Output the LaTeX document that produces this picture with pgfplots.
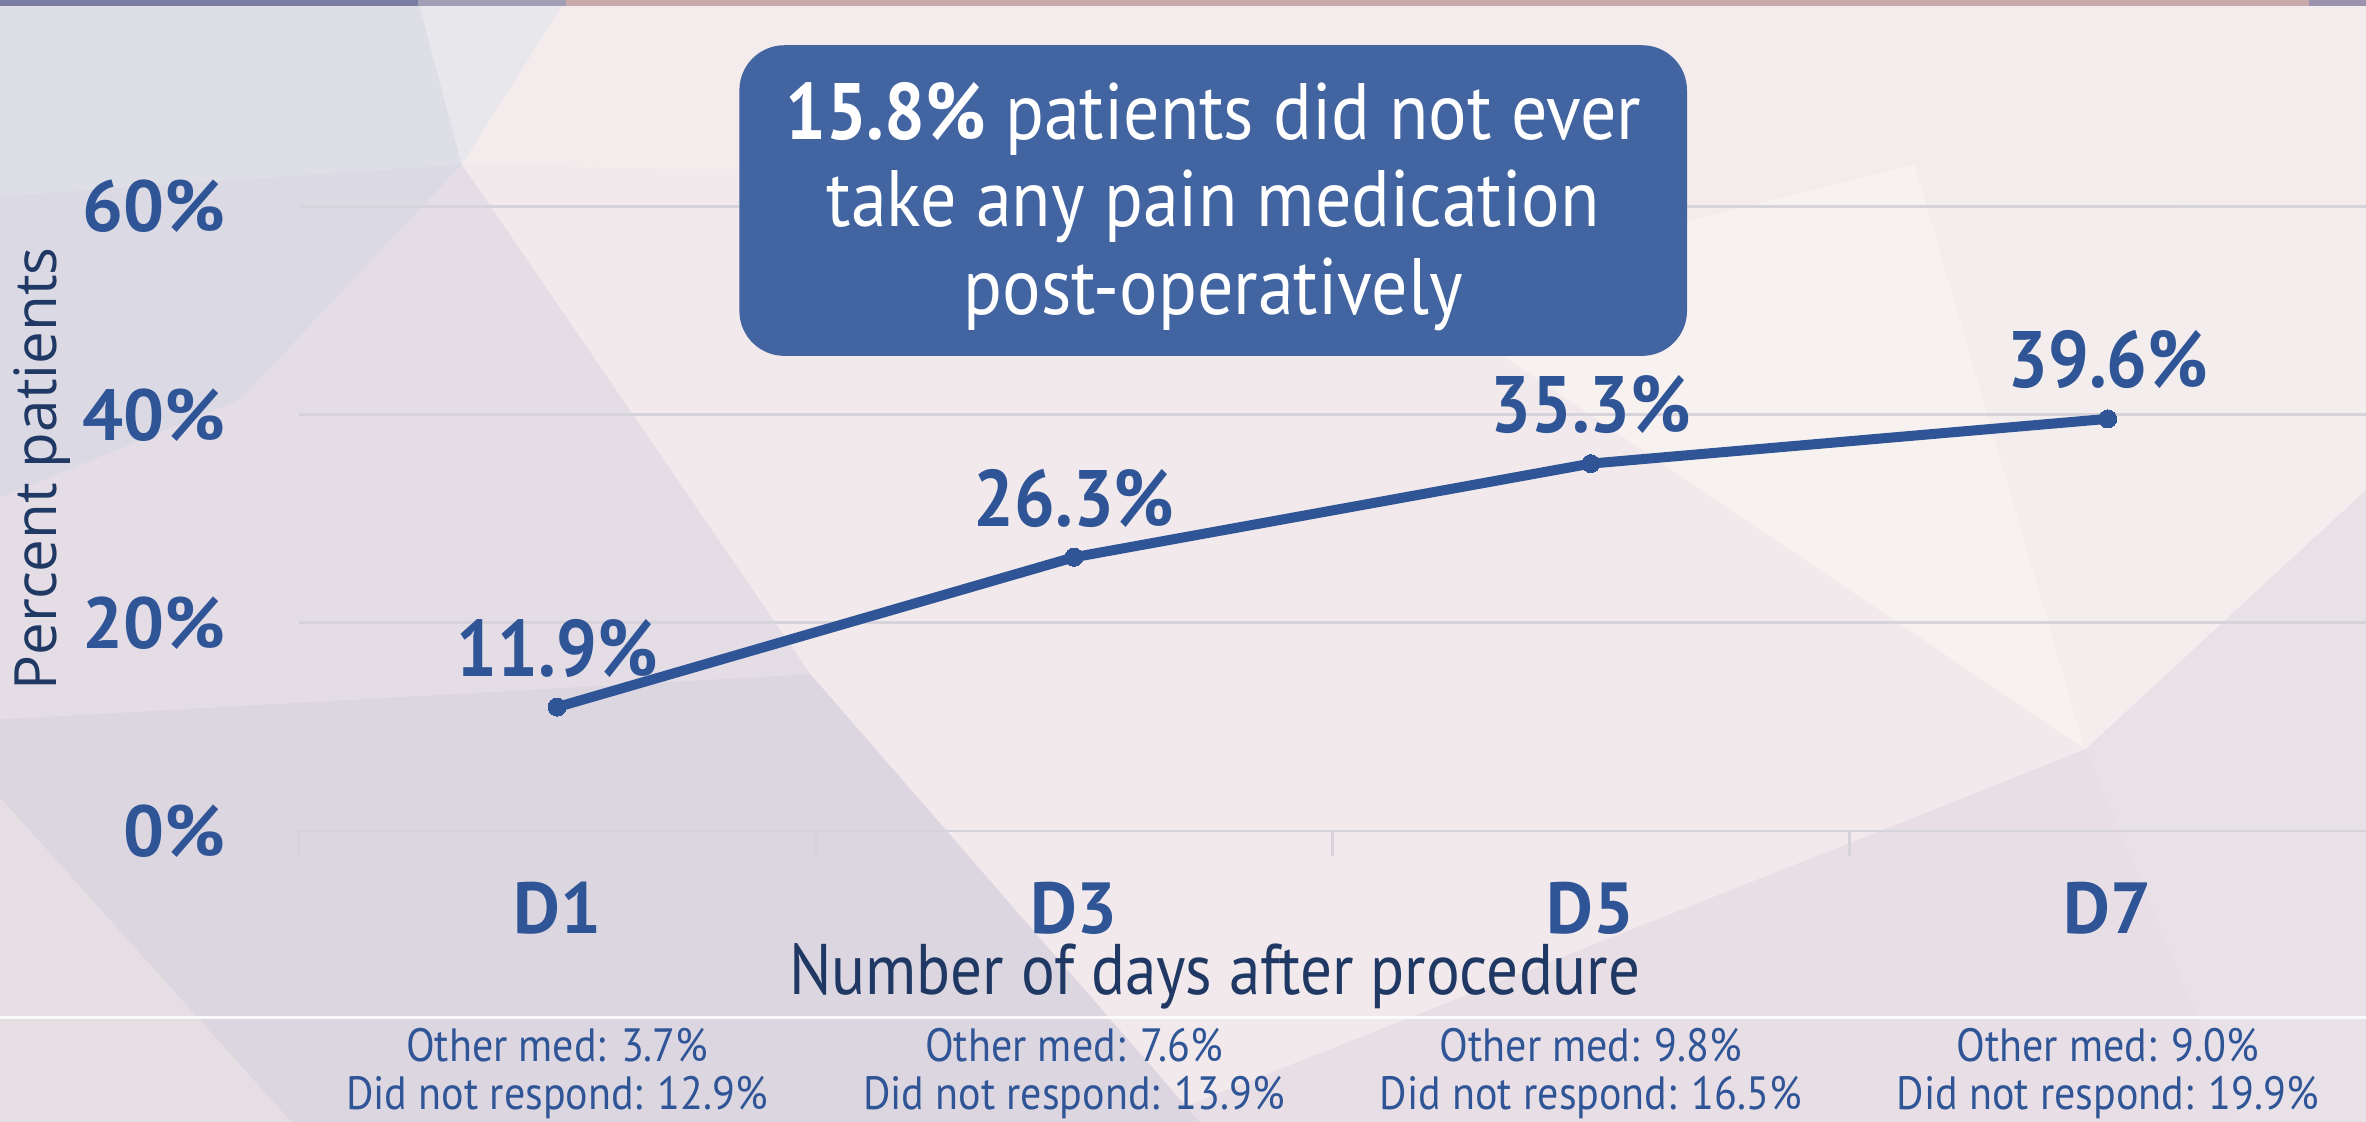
\documentclass[border=0pt]{standalone}
\usepackage{fontspec}
\setmainfont{PT Sans}
\newfontfamily\narrowA[FakeStretch=0.9]{PT Sans}
\newfontfamily\narrowB[FakeStretch=0.88]{PT Sans}
\newfontfamily\ylabfont{Open Sans}
\usepackage{pgfplots}
\pgfplotsset{compat=1.18}
\definecolor{myblue}{RGB}{47,85,151}
\definecolor{boxblue}{RGB}{66,100,160}
\definecolor{navy}{RGB}{31,56,100}
\definecolor{gridc}{RGB}{214,212,218}
\begin{document}
\begin{tikzpicture}
\useasboundingbox (0,0) rectangle (709.8pt,336.6pt);
% ---------- background (coordinates in 1568x744 units, y downwards)
\begin{scope}[x=0.45268pt,y=-0.45242pt,shift={(0pt,336.6pt)}]
\fill[fill={rgb,255:red,237;green,229;blue,234}] (0,0) rectangle (1568,744);
\fill[fill={rgb,255:red,222;green,222;blue,231}] (0,0) -- (277,0) -- (306,109) -- (0,130) -- cycle;
\fill[fill={rgb,255:red,232;green,231;blue,236}] (277,0) -- (375,0) -- (306,109) -- cycle;
\fill[fill={rgb,255:red,244;green,236;blue,236}] (375,0) -- (1568,0) -- (1568,150) -- (1269,109) -- (932,193) -- (530,114) -- (306,109) -- cycle;
\fill[fill={rgb,255:red,247;green,242;blue,239}] (932,193) -- (1269,109) -- (1382,497) -- cycle;
\fill[fill={rgb,255:red,243;green,237;blue,237}] (1269,109) -- (1568,150) -- (1568,325) -- (1382,497) -- cycle;
\fill[fill={rgb,255:red,233;green,225;blue,232}] (1568,325) -- (1568,744) -- (1485,744) -- (1382,497) -- cycle;
\fill[fill={rgb,255:red,241;green,233;blue,235}] (306,109) -- (530,114) -- (932,193) -- (1382,497) -- (760,744) -- (795,744) -- (537,447) -- cycle;
\fill[fill={rgb,255:red,232;green,223;blue,230}] (760,744) -- (1382,497) -- (1485,744) -- cycle;
\fill[fill={rgb,255:red,228;green,221;blue,230}] (306,109) -- (537,447) -- (0,477) -- (0,330) -- (159,265) -- cycle;
\fill[fill={rgb,255:red,218;green,217;blue,228}] (0,130) -- (306,109) -- (159,265) -- (0,330) -- cycle;
\fill[fill={rgb,255:red,220;green,214;blue,225}] (0,477) -- (537,447) -- (795,744) -- (193,744) -- (0,529) -- cycle;
\fill[fill={rgb,255:red,229;green,223;blue,227}] (0,529) -- (193,744) -- (0,744) -- cycle;
% top strip
\fill[fill={rgb,255:red,122;green,125;blue,162}] (0,0) rectangle (277,4);
\fill[fill={rgb,255:red,160;green,159;blue,180}] (277,0) rectangle (375,4);
\fill[fill={rgb,255:red,200;green,170;blue,173}] (375,0) rectangle (1530,4);
\fill[fill={rgb,255:red,156;green,147;blue,173}] (1530,0) rectangle (1568,4);
% white separator line
\draw[white, line width=0.9pt, opacity=0.85] (0,675) -- (1568,675);
\end{scope}
% ---------- chart
\begin{axis}[
  at={(89.63pt,87.32pt)}, anchor=south west,
  scale only axis, width=620.2pt, height=187.3pt,
  xmin=-0.5, xmax=3.5, ymin=0, ymax=60,
  clip=false,
  axis line style={draw=none},
  tick pos=left,
  ytick={0,20,40,60}, yticklabels={0\%,20\%,40\%,60\%},
  xtick={0,1,2,3}, xticklabels={D1,D3,D5,D7},
  major tick length=0pt,
  ymajorgrids, grid style={gridc, line width=0.8pt},
  extra x ticks={-0.5,0.5,1.5,2.5},
  extra x tick labels={},
  extra x tick style={major tick length=7.5pt, tick align=outside, xmajorgrids=false},
  tick style={gridc, line width=0.8pt},
  ticklabel style={font=\fontsize{21.7}{23}\selectfont\bfseries, text=myblue},
  yticklabel style={anchor=east, inner sep=0pt, xshift=-21.9pt},
  xticklabel style={anchor=center, inner sep=0pt, yshift=-23.3pt},
  xlabel={Number of days after procedure},
  xlabel style={at={(axis description cs:0.4431,-0.2615)}, anchor=base, inner sep=0pt, font=\narrowB\fontsize{21.5}{23}\selectfont, text=navy},
  ylabel={Percent patients},
  ylabel style={at={(axis description cs:-0.1241,0.5797)}, anchor=center, inner sep=0pt, font=\ylabfont\fontsize{17.5}{19}\selectfont, text=navy},
  every node near coord/.append style={anchor=center, yshift=17.7pt, inner sep=0pt, font=\narrowA\fontsize{24}{26}\selectfont\bfseries, text=myblue},
]
\addplot[myblue, line width=3pt, mark=*, mark size=2.7pt,
  mark options={fill=myblue, draw=myblue, line width=0pt},
  nodes near coords, point meta=explicit symbolic]
  coordinates {(0,11.9) [11.9\%] (1,26.3) [26.3\%] (2,35.3) [35.3\%] (3,39.6) [39.6\%]};
\begin{scope}[every node/.style={anchor=base, inner sep=0pt, text=myblue, font=\narrowA\fontsize{14}{16}\selectfont}]
\node at (axis cs:0,-22.2) {Other med: 3.7\%};
\node at (axis cs:0,-26.8) {Did not respond: 12.9\%};
\node at (axis cs:1,-22.2) {Other med: 7.6\%};
\node at (axis cs:1,-26.8) {Did not respond: 13.9\%};
\node at (axis cs:2,-22.2) {Other med: 9.8\%};
\node at (axis cs:2,-26.8) {Did not respond: 16.5\%};
\node at (axis cs:3,-22.2) {Other med: 9.0\%};
\node at (axis cs:3,-26.8) {Did not respond: 19.9\%};
\end{scope}
\end{axis}
% ---------- callout
\begin{scope}[x=0.45268pt,y=-0.45242pt,shift={(0pt,336.6pt)}]
\fill[boxblue, rounded corners=13.5pt] (490,30) rectangle (1118,236);
\node[text=white, align=center, inner sep=0pt, font=\narrowA\fontsize{24}{26.3}\selectfont] at (804,137)
  {\textbf{15.8\%} patients did not ever\\take any pain medication\\post-operatively};
\end{scope}
\end{tikzpicture}
\end{document}
